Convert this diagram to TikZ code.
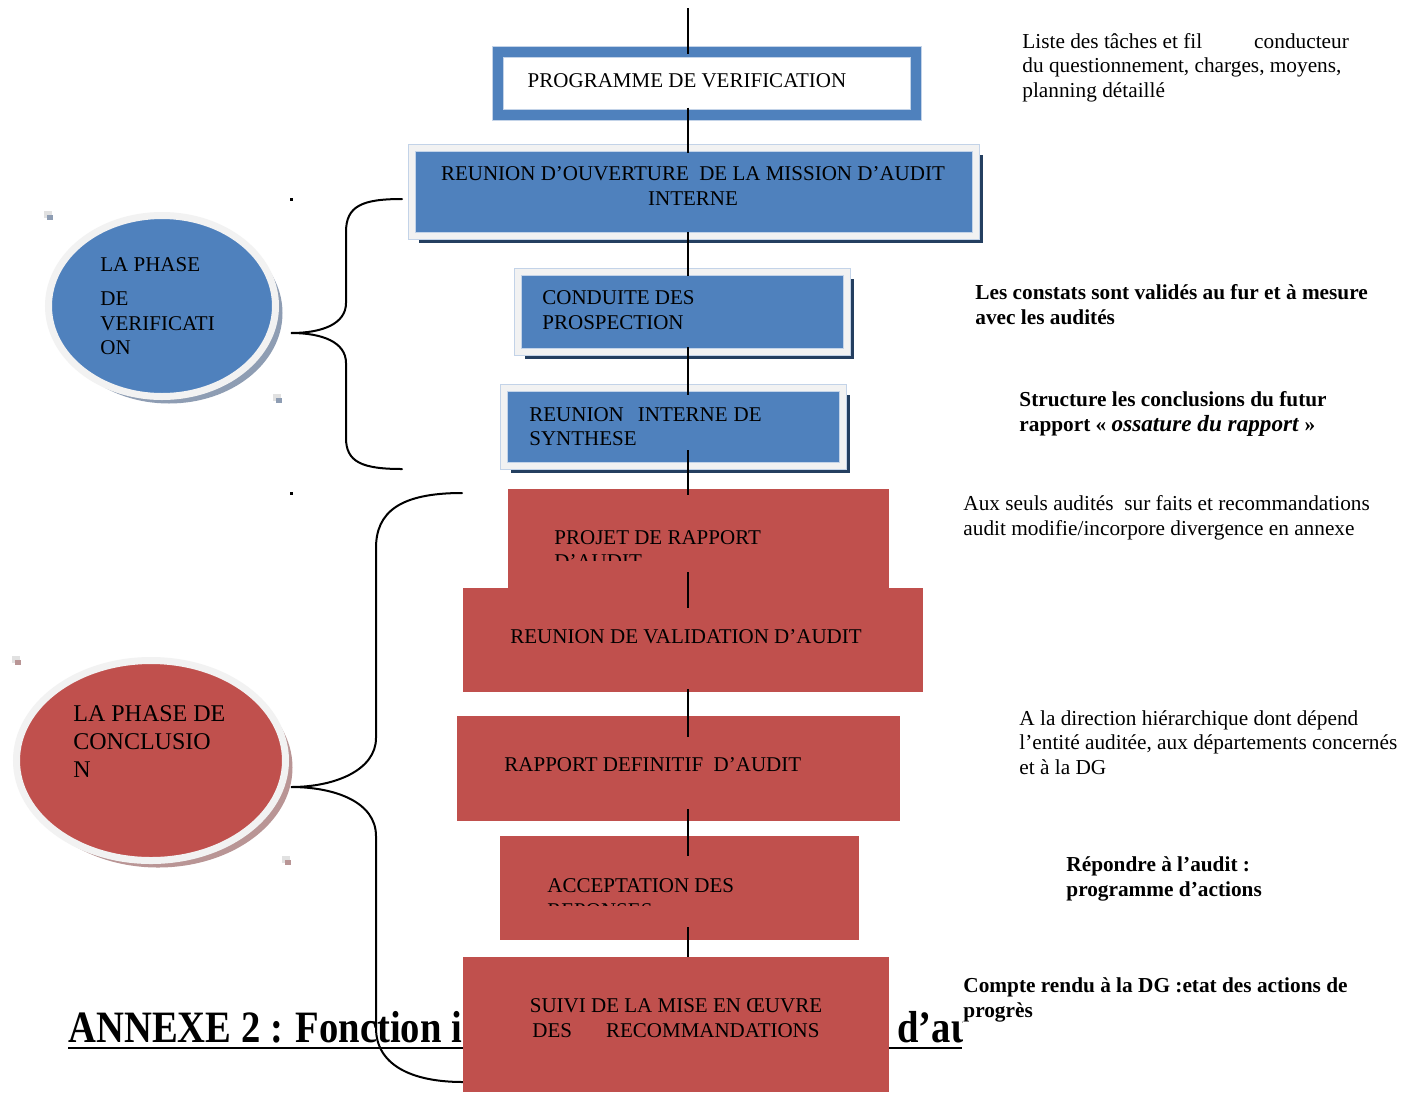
\documentclass[tikz,border=0pt]{standalone}
\usepackage{fontspec}
\setmainfont{Liberation Serif}
\usetikzlibrary{shapes.geometric, shadows, calc}

\definecolor{bleu}{HTML}{4F81BD}
\definecolor{bleuclair}{HTML}{C3D3E8}
\definecolor{rouge}{HTML}{C0504D}
\definecolor{cadre}{HTML}{F2F2F2}
\definecolor{marine}{HTML}{243F60}
\definecolor{ombrebleu}{HTML}{8E9DB3}
\definecolor{ombrerouge}{HTML}{B99595}

\tikzset{
  boite/.style={rectangle, fill=bleu, draw=bleuclair, double=cadre, double distance=3.2pt,
    line width=0.4pt, inner sep=0pt,
    general shadow={fill=marine, shadow xshift=3.5pt, shadow yshift=-3.5pt}},
  pave/.style={rectangle, fill=rouge, inner sep=0pt},
  bulle/.style={ellipse, draw=cadre, line width=3.5pt, inner sep=0pt},
  texte/.style={inner sep=0pt, anchor=west, align=left},
  note/.style={texte, font=\fontsize{10.65}{12.3}\selectfont},
  notegras/.style={texte, font=\bfseries\fontsize{10.65}{12.5}\selectfont},
  lien/.style={line width=1pt},
  accolade/.style={line width=1pt, line cap=round},
}

\begin{document}
\begin{tikzpicture}[x=0.5pt, y=-0.5pt, font=\fontsize{10.5}{12.3}\selectfont]
\fill[white] (0,0) rectangle (1402,1093);
\useasboundingbox (0,0) rectangle (1402,1093);
\coordinate (axe) at (688,0);
\coordinate (haut) at (688,8);

% titre
\begin{scope}
\clip (0,980) rectangle (962,1093);
\node[inner sep=0pt, anchor=base west, font=\bfseries\fontsize{19.5}{22}\selectfont] (titre) at (68,1042) {\scalebox{0.99}[1.15]{ANNEXE 2 : Fonction i}};
\node[inner sep=0pt, anchor=base west, font=\bfseries\fontsize{19.5}{22}\selectfont] (titrefin) at (897,1042) {\scalebox{0.99}[1.15]{d’au}};
\end{scope}
\draw[line width=0.9pt] (titre.base west) ++(0,6) -- (962,1048);

% accolades
\coordinate (acc-v-haut) at (402,199);
\coordinate (acc-v-pointe) at (291,333);
\coordinate (acc-v-bas) at (402,469);
\draw[accolade] (acc-v-haut) .. controls (362,199) and (346,206) .. (346,232) -- (346,303)
  .. controls (346,324) and (322,333) .. (acc-v-pointe)
  .. controls (322,333) and (346,342) .. (346,363) -- (346,438)
  .. controls (346,462) and (362,469) .. (acc-v-bas);
\coordinate (acc-c-haut) at (462,493);
\coordinate (acc-c-pointe) at (291,787);
\coordinate (acc-c-bas) at (463,1082);
\draw[accolade] (acc-c-haut) .. controls (400,493) and (376,512) .. (376,548) -- (376,738)
  .. controls (376,770) and (335,787) .. (acc-c-pointe)
  .. controls (335,787) and (376,802) .. (376,836) -- (376,1028)
  .. controls (376,1064) and (410,1082) .. (acc-c-bas);

% phases
\node[bulle, fill=bleu, minimum width=113.5pt, minimum height=90.5pt,
  general shadow={fill=ombrebleu, shadow xshift=3.5pt, shadow yshift=-3.5pt}] (verif) at (162,306) {};
\node[texte] (verif-txt) at (100,306.5) {LA PHASE\\[4.5pt]DE\\VERIFICATI\\ON};
\node[bulle, fill=rouge, minimum width=134.5pt, minimum height=100pt,
  general shadow={fill=ombrerouge, shadow xshift=3.5pt, shadow yshift=-3.5pt}] (concl) at (151,760.5) {};
\node[texte, font=\fontsize{12}{13.8}\selectfont] (concl-txt) at (73,741.5) {LA PHASE DE\\CONCLUSIO\\N};

% etapes
\node[rectangle, fill=white, draw=bleuclair, double=bleu, double distance=5pt, line width=0.5pt,
  inner sep=0pt, minimum width=209pt, minimum height=31.5pt] (prog) at (707,83.5) {};
\node[inner sep=0pt] (prog-txt) at (687,81) {PROGRAMME DE VERIFICATION};
\node[boite, minimum width=282pt, minimum height=44pt] (ouv) at (694,192) {};
\node[inner sep=0pt, align=center] (ouv-txt) at (693,186) {REUNION D’OUVERTURE \ DE LA MISSION D’AUDIT\\INTERNE};
\node[boite, minimum width=164.5pt, minimum height=40pt] (cond) at (682.5,312) {};
\node[texte] (cond-txt) at (542,310) {CONDUITE DES\\PROSPECTION};
\node[boite, minimum width=169.5pt, minimum height=39pt] (synth) at (673.5,427) {};
\node[texte] (synth-txt) at (529,426.5) {REUNION\hspace{7pt}INTERNE\hspace{3pt}DE\\SYNTHESE};

\node[pave, minimum width=190.5pt, minimum height=49.5pt] (projet) at (698.5,538.5) {};
\begin{scope}
\clip (508,489) rectangle (889,560);
\node[texte] (projet-txt) at (554,549.5) {PROJET DE RAPPORT\\D’AUDIT};
\end{scope}
\node[pave, minimum width=230pt, minimum height=52pt] (valid) at (693,640) {};
\node[texte] (valid-txt) at (510,637) {REUNION DE VALIDATION D’AUDIT};
\node[pave, minimum width=221.5pt, minimum height=52.5pt] (defin) at (678.5,768.5) {};
\node[texte] (defin-txt) at (504,765) {RAPPORT DEFINITIF \ D’AUDIT};
\node[pave, minimum width=179.5pt, minimum height=52pt] (accept) at (679.5,888) {};
\begin{scope}
\clip (500,836) rectangle (859,905);
\node[texte] (accept-txt) at (547,898) {ACCEPTATION DES\\REPONSES};
\end{scope}
\node[pave, minimum width=213pt, minimum height=67.5pt] (suivi) at (676,1024.5) {};
\node[inner sep=0pt, align=center] (suivi-txt) at (676,1018) {SUIVI DE LA MISE EN ŒUVRE\\DES\hspace{17pt}RECOMMANDATIONS};

% liens
\draw[lien] (haut) -- ($(axe |- prog.north)+(0,2)$);
\draw[lien] ($(axe |- prog.south)+(0,-8)$) -- ($(axe |- ouv.north)+(0,5)$);
\draw[lien] ($(axe |- ouv.south)+(0,-4)$) -- ($(axe |- cond.north)+(0,4)$);
\draw[lien] ($(axe |- cond.south)+(0,-5)$) -- ($(axe |- synth.north)+(0,7)$);
\draw[lien] ($(axe |- synth.south)+(0,-16)$) -- ($(axe |- projet.north)+(0,6)$);
\draw[lien] ($(axe |- projet.south)+(0,-16)$) -- ($(axe |- valid.north)+(0,20)$);
\draw[lien] ($(axe |- valid.south)+(0,-3)$) -- ($(axe |- defin.north)+(0,21)$);
\draw[lien] ($(axe |- defin.south)+(0,-12)$) -- ($(axe |- accept.north)+(0,20)$);
\draw[lien] ($(axe |- accept.south)+(0,-13)$) -- (axe |- suivi.north);

% commentaires
\node[note] (note-prog) at (1022,67.5) {Liste des tâches et fil\hspace{26pt}conducteur\\du questionnement, charges, moyens,\\planning détaillé};
\node[notegras] (note-cond) at (975,304.5) {Les constats sont validés au fur et à mesure\\avec les audités};
\node[notegras] (note-synth) at (1019,414) {Structure les conclusions du futur\\rapport « {\fontsize{11.6}{12.5}\selectfont\textit{ossature du rapport}} »};
\node[note] (note-projet) at (963,518) {Aux seuls audités \ sur faits et recommandations\\audit modifie/incorpore divergence en annexe};
\node[note] (note-defin) at (1019,742.5) {A la direction hiérarchique dont dépend\\l’entité auditée, aux départements concernés\\et à la DG};
\node[notegras] (note-accept) at (1066,878.5) {Répondre à l’audit :\\programme d’actions};
\node[notegras] (note-suivi) at (963,999.5) {Compte rendu à la DG :etat des actions de\\progrès};

% poignees
\foreach \px/\py/\c in {44/211/ombrebleu, 273/394/ombrebleu, 12/656/ombrerouge, 282/856/ombrerouge}{
  \fill[cadre!85!gray] (\px,\py) rectangle ++(8,7);
  \fill[\c] (\px+3,\py+4) rectangle ++(6,5);
}
\fill (290,198) rectangle ++(2.5,2.5);
\fill (290,492) rectangle ++(2.5,2.5);
\end{tikzpicture}
\end{document}
